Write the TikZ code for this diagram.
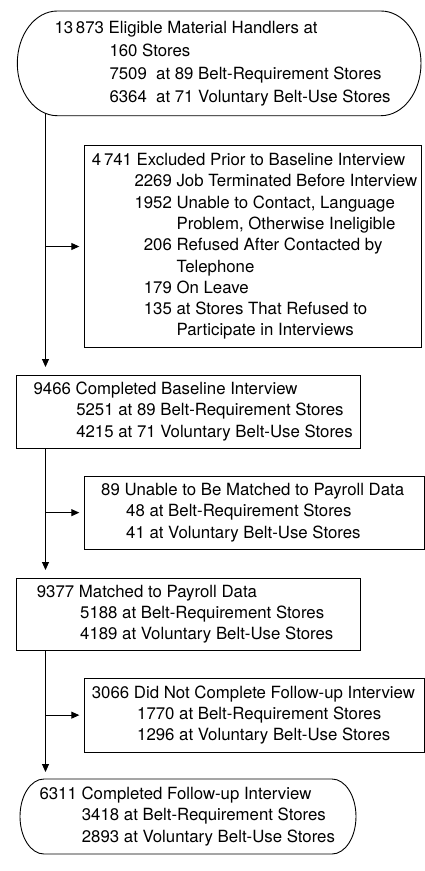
\documentclass[tikz,border=0pt]{standalone}
\usepackage{fontspec}
\setmainfont{TeX Gyre Heros}
\usetikzlibrary{arrows.meta,backgrounds}
\newcommand\exline[2]{\hspace*{42.6pt}\makebox[37.4pt][r]{#1}\ #2}
\begin{document}
\begin{tikzpicture}[x=1pt,y=-1pt,
  bx/.style={draw=black, line width=0.9pt, rectangle, anchor=north west, inner sep=0pt, outer sep=0pt},
  txt/.style={anchor=west, align=left, inner sep=0pt, font=\fontsize{16.8}{21.3}\selectfont},
  arr/.style={line width=0.9pt, -{Triangle[length=8pt,width=7pt]}},
  stad/.style={line width=0.9pt, fill=white}
]
\useasboundingbox (0,0) rectangle (425,871);
\coordinate (spine) at (45.5,0);

% top terminator
\node[bx, draw=none, minimum width=403.7pt, minimum height=104.7pt] (n0) at (17.3,11) {};
\draw[stad] ([xshift=40pt]n0.north west) -- ([xshift=-40pt]n0.north east)
  arc[start angle=90,end angle=-90,x radius=40pt,y radius=52.35pt]
  -- ([xshift=40pt]n0.south west)
  arc[start angle=270,end angle=90,x radius=40pt,y radius=52.35pt] -- cycle;
\node[txt, font=\fontsize{16.8}{23}\selectfont] (t0) at ([xshift=37pt]n0.west)
  {13\,873 Eligible Material Handlers at\\\hspace*{55pt}160 Stores\\\hspace*{55pt}7509\ \ at 89 Belt-Requirement Stores\\\hspace*{55pt}6364\ \ at 71 Voluntary Belt-Use Stores};

% excluded
\node[bx, minimum width=337.4pt, minimum height=201.6pt] (n1) at (84.3,145.7) {};
\node[txt] (t1) at ([xshift=7.4pt]n1.west)
  {4\,741 Excluded Prior to Baseline Interview\\\exline{2269}{Job Terminated Before Interview}\\\exline{1952}{Unable to Contact, Language}\\\exline{}{Problem, Otherwise Ineligible}\\\exline{206}{Refused After Contacted by}\\\exline{}{Telephone}\\\exline{179}{On Leave}\\\exline{135}{at Stores That Refused to}\\\exline{}{Participate in Interviews}};

% 9466
\node[bx, minimum width=343.3pt, minimum height=73pt] (n2) at (16.7,375) {};
\node[txt] (t2) at ([xshift=16.7pt]n2.west)
  {9466 Completed Baseline Interview\\\hspace*{42.7pt}5251 at 89 Belt-Requirement Stores\\\hspace*{42.7pt}4215 at 71 Voluntary Belt-Use Stores};

% 89
\node[bx, minimum width=340pt, minimum height=73.3pt] (n3) at (84.3,476) {};
\node[txt] (t3) at ([xshift=16.7pt]n3.west)
  {89 Unable to Be Matched to Payroll Data\\\hspace*{25pt}48 at Belt-Requirement Stores\\\hspace*{25pt}41 at Voluntary Belt-Use Stores};

% 9377
\node[bx, minimum width=343.3pt, minimum height=72.7pt] (n4) at (16.7,578) {};
\node[txt] (t4) at ([xshift=20pt]n4.west)
  {9377 Matched to Payroll Data\\\hspace*{43.3pt}5188 at Belt-Requirement Stores\\\hspace*{43.3pt}4189 at Voluntary Belt-Use Stores};

% 3066
\node[bx, minimum width=340pt, minimum height=74.3pt] (n5) at (84.3,678) {};
\node[txt] (t5) at ([xshift=7.4pt]n5.west)
  {3066 Did Not Complete Follow-up Interview\\\hspace*{45.3pt}1770 at Belt-Requirement Stores\\\hspace*{45.3pt}1296 at Voluntary Belt-Use Stores};

% final terminator
\node[bx, draw=none, minimum width=336pt, minimum height=75pt] (n6) at (20,779) {};
\draw[stad] ([xshift=24pt]n6.north west) -- ([xshift=-24pt]n6.north east)
  arc[start angle=90,end angle=-90,x radius=24pt,y radius=37.5pt]
  -- ([xshift=24pt]n6.south west)
  arc[start angle=270,end angle=90,x radius=24pt,y radius=37.5pt] -- cycle;
\node[txt] (t6) at ([xshift=19.3pt]n6.west)
  {6311 Completed Follow-up Interview\\\hspace*{42.4pt}3418 at Belt-Requirement Stores\\\hspace*{42.4pt}2893 at Voluntary Belt-Use Stores};

% connectors
\begin{scope}[on background layer]
\draw[arr, shorten >=8pt] (n0.center -| spine) -- (n2.north -| spine);
\draw[arr, shorten >=8pt] (n2.south -| spine) -- (n4.north -| spine);
\draw[arr, shorten >=7pt] (n4.south -| spine) -- (n6.north -| spine);
\draw[arr, shorten >=5pt] (n1.west -| spine) -- (n1.west);
\draw[arr, shorten >=5pt] (n3.west -| spine) -- (n3.west);
\draw[arr, shorten >=5pt] (n5.west -| spine) -- (n5.west);
\end{scope}
\end{tikzpicture}
\end{document}
